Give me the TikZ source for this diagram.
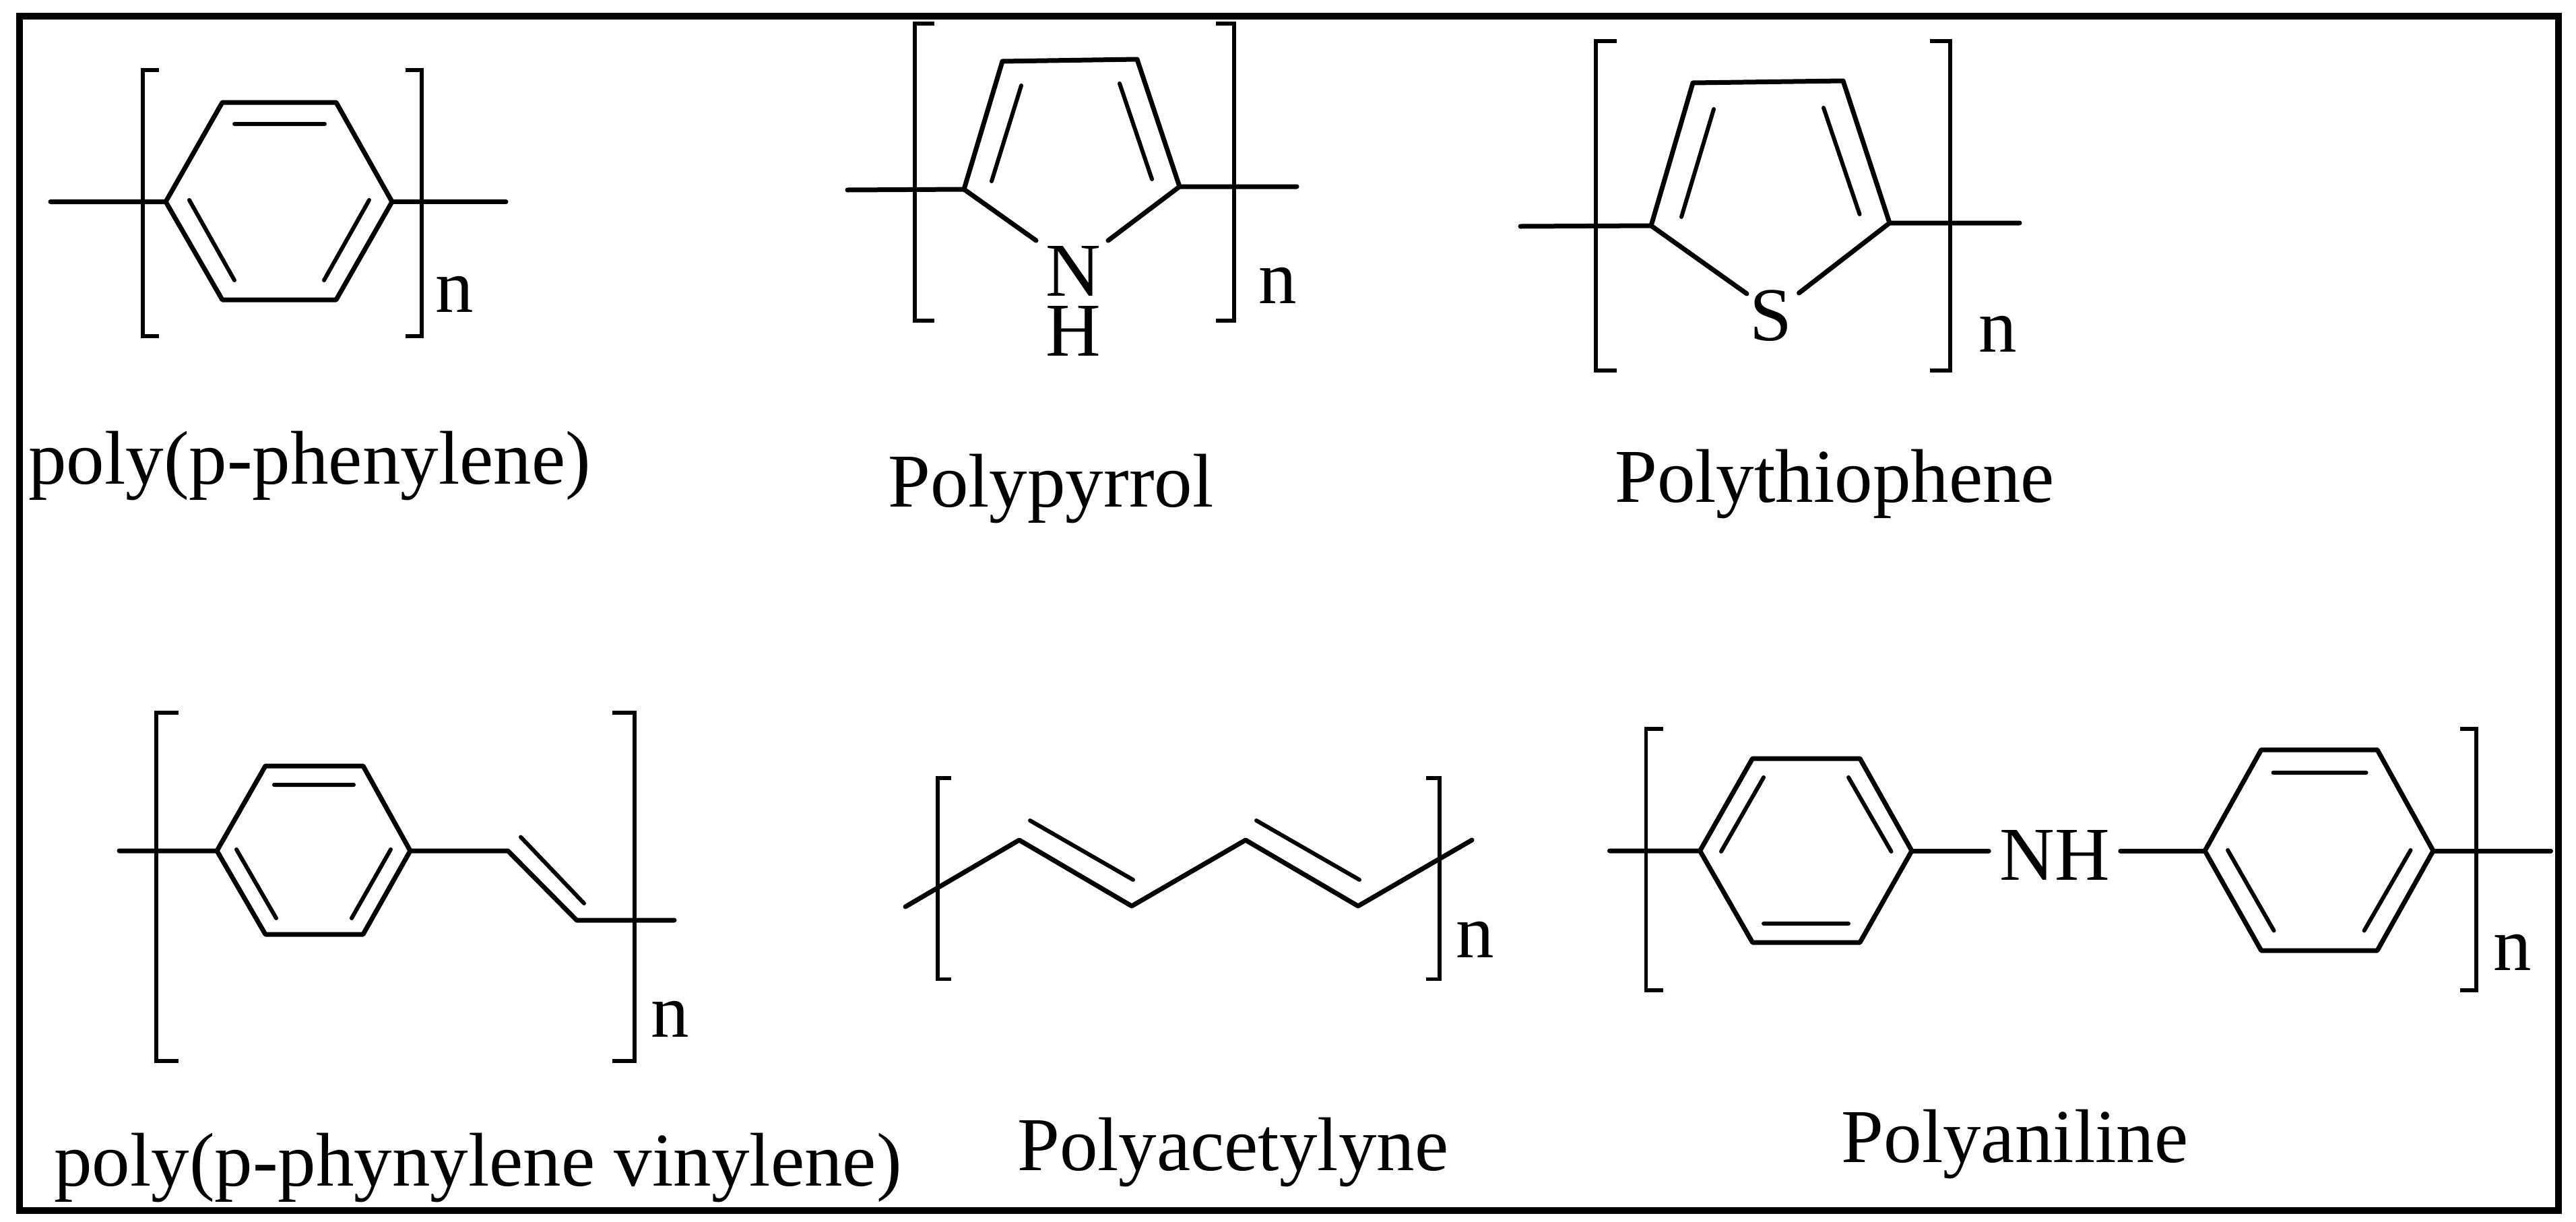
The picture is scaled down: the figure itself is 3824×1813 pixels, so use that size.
\documentclass[tikz,border=0pt]{standalone}
\usepackage{fontspec}
\setmainfont{Liberation Serif}
\tikzset{
  bond/.style={line width=7pt,line cap=round,line join=round},
  innerbond/.style={line width=6pt,line cap=round},
  brack/.style={line width=5.5pt,line join=miter},
  frameline/.style={line width=10pt},
  chemtext/.style={font=\fontsize{113}{113}\selectfont,inner sep=0pt,text=black},
  lab/.style={chemtext,anchor=base west},
  atom/.style={chemtext,anchor=base}
}
\begin{document}
\begin{tikzpicture}[x=1pt,y=-1pt]
\useasboundingbox (0,0) rectangle (3824,1813);
\fill[white] (0,0) rectangle (3824,1813);
\draw[frameline] (29,23.5) rectangle (3798,1796.5);

% ---- poly(p-phenylene)
\coordinate (aL) at (75,299.5); \coordinate (a1) at (246,299.5); \coordinate (a2) at (330,152);
\coordinate (a3) at (499,152); \coordinate (a4) at (582,299.5); \coordinate (a5) at (499,445);
\coordinate (a6) at (330,445); \coordinate (aR) at (751,299.5);
\draw[bond] (aL) -- (a1) -- (a2) -- (a3) -- (a4) -- (a5) -- (a6) -- (a1);
\draw[bond] (a4) -- (aR);
\draw[innerbond] (348,184) -- (482,184) (281,297) -- (348,416) (548,297) -- (481,416);
\draw[brack] (236,104) -- (212,104) -- (212,499) -- (236,499);
\draw[brack] (602,104) -- (626,104) -- (626,499) -- (602,499);
\node[lab] (an) at (646,463) {n};
\node[lab] (alabel) at (42,718) {poly(p-phenylene)};

% ---- Polypyrrol
\coordinate (bL) at (1258,282); \coordinate (b1) at (1431,281); \coordinate (b2) at (1488,91);
\coordinate (b3) at (1688,88); \coordinate (b4) at (1751,277); \coordinate (bR) at (1925,277);
\coordinate (bNl) at (1538,357); \coordinate (bNr) at (1645,357);
\draw[bond] (bL) -- (b1) -- (b2) -- (b3) -- (b4) -- (bR);
\draw[bond] (b1) -- (bNl) (b4) -- (bNr);
\draw[innerbond] (1516,127) -- (1472,269) (1662,124) -- (1710,266);
\draw[brack] (1387,35) -- (1358,35) -- (1358,476) -- (1387,476);
\draw[brack] (1805,35) -- (1832,35) -- (1832,476) -- (1805,476);
\node[atom] (bN) at (1593,439) {N};
\node[atom] (bH) at (1593,528) {H};
\node[lab] (bn) at (1868,450) {n};
\node[lab] (blabel) at (1318,752) {Polypyrrol};

% ---- Polythiophene
\coordinate (cL) at (2257,336); \coordinate (c1) at (2451,335); \coordinate (c2) at (2513,123);
\coordinate (c3) at (2736,120); \coordinate (c4) at (2805,331); \coordinate (cR) at (2998,331);
\coordinate (cSl) at (2593,436); \coordinate (cSr) at (2670.5,435);
\draw[bond] (cL) -- (c1) -- (c2) -- (c3) -- (c4) -- (cR);
\draw[bond] (c1) -- (cSl) (c4) -- (cSr);
\draw[innerbond] (2544,162) -- (2496,322) (2707,160) -- (2760.5,318);
\draw[brack] (2399.5,61) -- (2369,61) -- (2369,550) -- (2399.5,550);
\draw[brack] (2865,61) -- (2895,61) -- (2895,550) -- (2865,550);
\node[atom] (cS) at (2629,505) {S};
\node[lab] (cn) at (2937,522) {n};
\node[lab] (clabel) at (2397,745) {Polythiophene};

% ---- poly(p-phynylene vinylene)
\coordinate (dL) at (177,1263); \coordinate (d1) at (322,1263); \coordinate (d2) at (394,1137);
\coordinate (d3) at (539,1137); \coordinate (d4) at (609,1263); \coordinate (d5) at (539,1387);
\coordinate (d6) at (394,1387); \coordinate (d7) at (754,1263); \coordinate (d8) at (856,1366);
\coordinate (dR) at (1001,1366);
\draw[bond] (dL) -- (d1) -- (d2) -- (d3) -- (d4) -- (d5) -- (d6) -- (d1);
\draw[bond] (d4) -- (d7) -- (d8) -- (dR);
\draw[innerbond] (407,1165) -- (525,1165) (351,1261) -- (410,1363) (580,1261) -- (522,1363) (773,1242.5) -- (867,1341);
\draw[brack] (265,1058) -- (232,1058) -- (232,1575) -- (265,1575);
\draw[brack] (909,1058) -- (942,1058) -- (942,1575) -- (909,1575);
\node[lab] (dn) at (966,1539) {n};
\node[lab] (dlabel) at (80,1760) {poly(p-phynylene vinylene)};

% ---- Polyacetylyne
\coordinate (eL) at (1344,1346); \coordinate (e1) at (1513,1247); \coordinate (e2) at (1680,1345);
\coordinate (e3) at (1849,1247); \coordinate (e4) at (2016,1345); \coordinate (eR) at (2185,1247);
\draw[bond] (eL) -- (e1) -- (e2) -- (e3) -- (e4) -- (eR);
\draw[innerbond] (1529,1218) -- (1682,1306) (1865,1218) -- (2018,1306);
\draw[brack] (1412,1155) -- (1392,1155) -- (1392,1453.5) -- (1412,1453.5);
\draw[brack] (2117,1155) -- (2137,1155) -- (2137,1453.5) -- (2117,1453.5);
\node[lab] (en) at (2161,1421) {n};
\node[lab] (elabel) at (1510,1737) {Polyacetylyne};

% ---- Polyaniline
\coordinate (fL) at (2389.5,1263); \coordinate (f1) at (2523.5,1263); \coordinate (f2) at (2601.5,1126);
\coordinate (f3) at (2761,1126); \coordinate (f4) at (2838,1263); \coordinate (f5) at (2761,1399);
\coordinate (f6) at (2601.5,1399);
\coordinate (g1) at (3273,1263); \coordinate (g2) at (3356.7,1113); \coordinate (g3) at (3529,1113);
\coordinate (g4) at (3612,1263); \coordinate (g5) at (3529,1411); \coordinate (g6) at (3356.7,1411);
\coordinate (gR) at (3786.5,1263);
\node[chemtext,anchor=base,inner xsep=16pt] (fNH) at (3050,1306) {NH};
\draw[bond] (fL) -- (f1) -- (f2) -- (f3) -- (f4) -- (f5) -- (f6) -- (f1);
\draw[bond] (g1) -- (g2) -- (g3) -- (g4) -- (g5) -- (g6) -- (g1);
\draw[bond] (f4) -- (fNH.west |- f4) (fNH.east |- g1) -- (g1) (g4) -- (gR);
\draw[innerbond] (2618,1154) -- (2555,1264) (2744,1154) -- (2807.5,1264) (2618,1371) -- (2744,1371);
\draw[innerbond] (3374.5,1147) -- (3512.5,1147) (3307,1262) -- (3375.5,1381.5) (3578.5,1262) -- (3509.5,1381.5);
\draw[brack] (2469,1082) -- (2443.7,1082) -- (2443.7,1470) -- (2469,1470);
\draw[brack] (3651.5,1082) -- (3676,1082) -- (3676,1470) -- (3651.5,1470);
\node[lab] (fn) at (3701,1440) {n};
\node[lab] (flabel) at (2733.5,1725) {Polyaniline};
\end{tikzpicture}
\end{document}
